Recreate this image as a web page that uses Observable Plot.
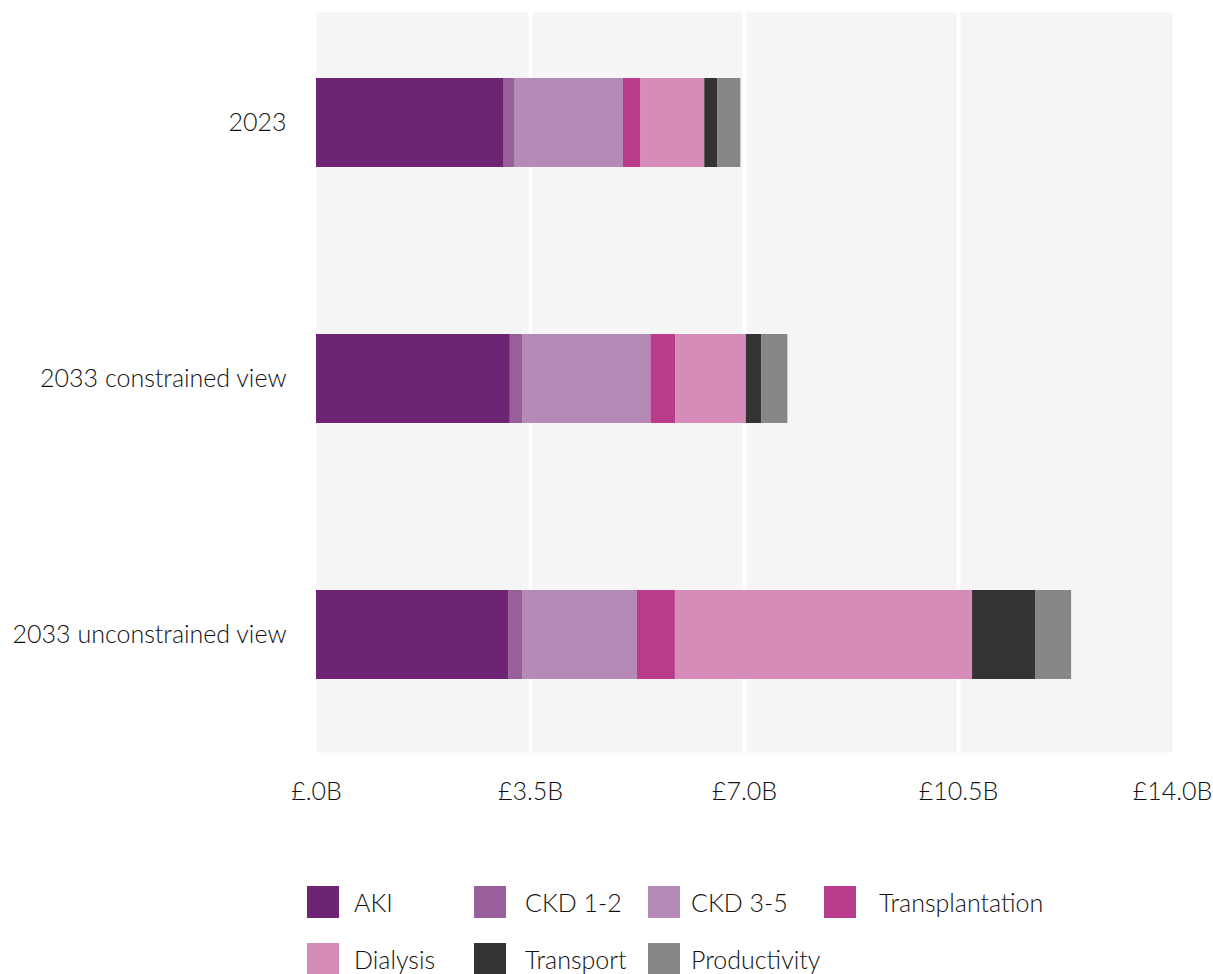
<!DOCTYPE html>
<html>
<head>
<meta charset="utf-8">
<script src="https://cdn.jsdelivr.net/npm/d3@7"></script>
<script src="https://cdn.jsdelivr.net/npm/@observablehq/plot@0.6"></script>
<style>
  html, body { margin: 0; padding: 0; background: #fff; }
  body { width: 1213px; height: 974px; overflow: hidden; font-family: Lato, sans-serif; color: #111; }
  #legend { margin-left: 307px; margin-top: 16px; display: grid; grid-template-columns: 167px 174px 176px auto; row-gap: 25px; }
  .item { display: flex; align-items: center; gap: 15px; font-size: 25px; font-weight: 300; height: 32px; white-space: nowrap; }
  .item:nth-child(4n+2) { gap: 19px; }
  .item:nth-child(4n+3) { gap: 11px; }
  .item:nth-child(4n+4) { gap: 23px; }
  .sw { width: 32px; height: 32px; flex: none; }
</style>
</head>
<body>
<div id="chart"></div>
<div id="legend"></div>
<script>
const years = ["2023", "2033 constrained view", "2033 unconstrained view"];
const categories = ["AKI", "CKD 1-2", "CKD 3-5", "Transplantation", "Dialysis", "Transport", "Productivity"];
const colors = ["#6c2473", "#985f9b", "#b58ab6", "#b93b8c", "#d68cb9", "#343233", "#868786"];
// values in £ billions, per category, for each year above
const aki = [3.07, 3.17, 3.15];
const ckd12 = [0.18, 0.21, 0.23];
const ckd35 = [1.77, 2.09, 1.87];
const transplantation = [0.28, 0.41, 0.62];
const dialysis = [1.05, 1.15, 4.86];
const transport = [0.21, 0.25, 1.03];
const productivity = [0.38, 0.43, 0.59];
const xTicks = [0, 3.5, 7, 10.5, 14];
const xTickLabels = ["£.0B", "£3.5B", "£7.0B", "£10.5B", "£14.0B"];

const series = [aki, ckd12, ckd35, transplantation, dialysis, transport, productivity];
const data = [];
years.forEach((y, i) => categories.forEach((c, j) => data.push({year: y, category: c, value: series[j][i]})));
const innerTicks = xTicks.slice(1, -1);

const chart = Plot.plot({
  width: 1213,
  height: 870,
  marginLeft: 316,
  marginRight: 41,
  marginTop: 12,
  marginBottom: 118,
  style: {fontFamily: "Lato, sans-serif", fontSize: "25px", fontWeight: 300, color: "#111", background: "#fff"},
  x: {domain: [0, 14], ticks: xTicks, tickFormat: (d) => xTickLabels[xTicks.indexOf(d)], tickSize: 0, tickPadding: 30, label: null},
  y: {domain: years, range: [8, 748], paddingInner: 0.653, paddingOuter: 0.269, tickSize: 0, tickPadding: 30, label: null},
  color: {domain: categories, range: colors},
  marks: [
    Plot.frame({fill: "#f5f5f5", stroke: null}),
    Plot.ruleX(innerTicks, {stroke: "#fff", strokeWidth: 4}),
    Plot.barX(data, Plot.stackX({x: "value", y: "year", fill: "category", order: categories})),
    Plot.axisX({ticks: xTicks, tickFormat: (d) => xTickLabels[xTicks.indexOf(d)], tickSize: 0, tickPadding: 30, label: null}),
    Plot.axisY({tickSize: 0, tickPadding: 30, label: null})
  ]
});
document.getElementById("chart").appendChild(chart);

const legend = document.getElementById("legend");
categories.forEach((c, i) => {
  const it = document.createElement("div");
  it.className = "item";
  const sw = document.createElement("span");
  sw.className = "sw";
  sw.style.background = colors[i];
  const lab = document.createElement("span");
  lab.textContent = c;
  it.appendChild(sw);
  it.appendChild(lab);
  legend.appendChild(it);
});
</script>
</body>
</html>
